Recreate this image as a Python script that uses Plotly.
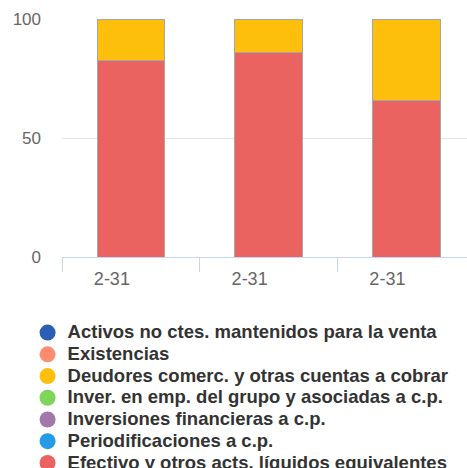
import plotly.graph_objects as go

# ── Datos ────────────────────────────────────────────────────────────────
PERIODOS = ["2-31 ", "2-31  ", "2-31   "]  # tres cierres con la misma etiqueta
TICK_TEXT = ["2-31", "2-31", "2-31"]

SERIES = [
    "Activos no ctes. mantenidos para la venta",
    "Existencias",
    "Deudores comerc. y otras cuentas a cobrar",
    "Inver. en emp. del grupo y asociadas a c.p.",
    "Inversiones financieras a c.p.",
    "Periodificaciones a c.p.",
    "Efectivo y otros acts. líquidos equivalentes",
]
COLORES = ["#2b5fb4", "#ff8c6f", "#fdbf0b", "#7dd65a", "#a178a9", "#239be6", "#eb6361"]

activos = [0, 0, 0]
existencias = [0, 0, 0]
deudores = [17.4, 14.2, 34.2]
inver_grupo = [0, 0, 0]
inversiones = [0, 0, 0]
periodific = [0, 0, 0]
efectivo = [82.6, 85.8, 65.8]

VALORES = [activos, existencias, deudores, inver_grupo, inversiones, periodific, efectivo]

GRID = "#e6e6e6"
AXIS = "#ccd6eb"
TEXT = "#333333"
MUTED = "#666666"

fig = go.Figure()

# barras apiladas (la serie de abajo va primero)
for nombre, vals, color in reversed(list(zip(SERIES, VALORES, COLORES))):
    fig.add_trace(go.Bar(
        x=PERIODOS, y=vals, name=nombre,
        marker=dict(color=color, line=dict(color="#a6a6a6", width=1)),
        width=0.49, showlegend=False,
    ))

# leyenda con círculos (texto más grande que el alto de fila)
for nombre, color in zip(SERIES, COLORES):
    fig.add_trace(go.Scatter(
        x=[None], y=[None], mode="markers",
        name=f"<span style='font-size:18.5px'>{nombre}</span>",
        marker=dict(color=color, size=18, symbol="circle"),
        showlegend=True,
    ))

fig.update_layout(
    width=467, height=468,
    barmode="stack",
    paper_bgcolor="white", plot_bgcolor="white",
    font=dict(family="Liberation Sans, Arial, sans-serif", color=MUTED, size=17),
    margin=dict(l=62, r=0, t=19, b=211, autoexpand=False),
    xaxis=dict(
        type="category", range=[-0.5, 2.44],
        tickvals=PERIODOS, ticktext=TICK_TEXT,
        tickson="boundaries", ticks="outside", ticklen=14, tickcolor=AXIS,
        showline=True, linecolor=AXIS, linewidth=1,
        showgrid=False, ticklabelshift=-19, ticklabelstandoff=5,
        tickfont=dict(size=18, color=MUTED),
    ),
    yaxis=dict(
        range=[0, 100], tickvals=[0, 50, 100],
        showgrid=True, gridcolor=GRID, zeroline=False,
        showline=False, ticks="", ticklabelstandoff=20,
        tickfont=dict(size=17, color=MUTED),
    ),
    legend=dict(
        x=-0.085, y=-0.251, xanchor="left", yanchor="top",
        orientation="v", traceorder="normal",
        font=dict(size=14.4, color=TEXT, weight="bold"),
        bgcolor="rgba(0,0,0,0)", tracegroupgap=0,
    ),
)

fig.write_html("out.html", config={"displayModeBar": False},
               post_script="document.body.style.margin='0';")
